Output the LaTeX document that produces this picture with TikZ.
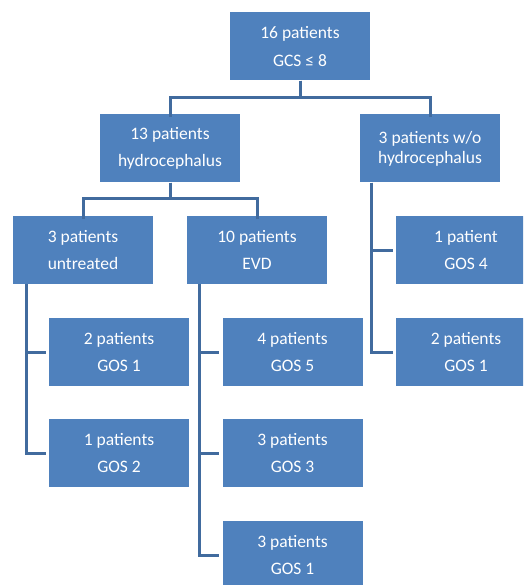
\documentclass[tikz,border=0pt]{standalone}
\usepackage{fontspec}
\setmainfont{Carlito}
\definecolor{boxblue}{RGB}{79,129,189}
\definecolor{lineblue}{RGB}{65,107,158}
\begin{document}
\begin{tikzpicture}[x=1pt,y=-1pt,
  box/.style={fill=boxblue,draw=none,minimum width=140pt,minimum height=68pt,inner sep=0pt,
    text=white,align=center,font=\fontsize{17.5}{27.5}\selectfont},
  tight/.style={font=\fontsize{17.5}{20}\selectfont},
  conn/.style={draw=lineblue,line width=3pt}]
\useasboundingbox (0,0) rectangle (523,585);
\clip (0,0) rectangle (523,585);
\fill[white] (0,0) rectangle (523,585);
\node[box] (top) at (300,46.5) {16 patients\\GCS ≤ 8};
\node[box] (hydro) at (170,148.5) {13 patients\\hydrocephalus};
\node[box,tight] (wo) at (430,148.5) {3 patients w/o\\hydrocephalus};
\node[box] (untr) at (83,250) {3 patients\\untreated};
\node[box] (evd) at (257,250) {10 patients\\EVD};
\node[box] (gosfourr) at (466,250) {1 patient\\GOS 4};
\node[box] (gosoner) at (466,352) {2 patients\\GOS 1};
\node[box] (gosonel) at (119,352) {2 patients\\GOS 1};
\node[box] (gostwo) at (119,453) {1 patients\\GOS 2};
\node[box] (gosfive) at (292.5,352) {4 patients\\GOS 5};
\node[box] (gosthree) at (292.5,453) {3 patients\\GOS 3};
\node[box] (goslast) at (292.5,555) {3 patients\\GOS 1};
% connectors
\draw[conn] (top.south) -- ++(0,16.5) -| ([yshift=-3pt]hydro.north);
\draw[conn] (top.south) -- ++(0,16.5) -| ([yshift=-3pt]wo.north);
\draw[conn] (hydro.south) -- ++(0,16) -| ([yshift=-3pt]untr.north);
\draw[conn] (hydro.south) -- ++(0,16) -| ([yshift=-3pt]evd.north);
\coordinate (ls) at ([xshift=14pt]untr.south west);
\draw[conn] (ls) |- ([xshift=-3pt]gosonel.west);
\draw[conn] (ls) |- ([xshift=-3pt]gostwo.west);
\coordinate (es) at ([xshift=13pt]evd.south west);
\draw[conn] (es) |- ([xshift=-3pt]gosfive.west);
\draw[conn] (es) |- ([xshift=-3pt]gosthree.west);
\draw[conn] (es) |- ([xshift=-3pt]goslast.west);
\coordinate (rs) at ([xshift=12pt]wo.south west);
\draw[conn] (rs) |- ([xshift=-3pt]gosfourr.west);
\draw[conn] (rs) |- ([xshift=-3pt]gosoner.west);
\end{tikzpicture}
\end{document}
